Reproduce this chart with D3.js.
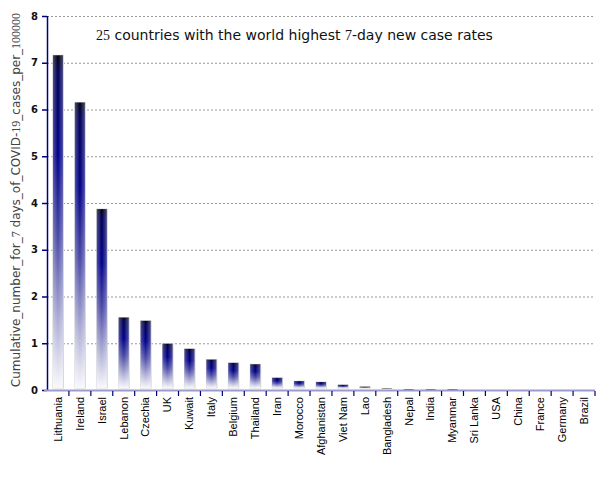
<!DOCTYPE html>
<html><head><meta charset="utf-8">
<script src="https://cdn.jsdelivr.net/npm/d3@7"></script>
<style>body{margin:0;background:#fff}</style>
</head><body><svg id="c" width="605" height="480"></svg>
<script>
const countries = ["Lithuania","Ireland","Israel","Lebanon","Czechia","UK","Kuwait","Italy","Belgium","Thailand","Iran","Morocco","Afghanistan","Viet Nam","Lao","Bangladesh","Nepal","India","Myanmar","Sri Lanka","USA","China","France","Germany","Brazil"];
const values = [7.16,6.15,3.87,1.55,1.48,0.99,0.88,0.65,0.58,0.55,0.26,0.19,0.17,0.11,0.07,0.03,0.015,0.015,0.015,0,0,0,0,0,0];
const yTicks = [0,1,2,3,4,5,6,7,8];

const svg = d3.select("#c");
const m = {l:47, r:595, t:16, b:390};
const x = d3.scaleBand().domain(countries).range([m.l, m.r]).paddingInner(0).paddingOuter(0);
const y = d3.scaleLinear().domain([0,8]).range([m.b, m.t]);

const defs = svg.append("defs");
const g = defs.append("linearGradient").attr("id","bg").attr("x1",0).attr("y1",0).attr("x2",0).attr("y2",1);
[[0,"#000014"],[0.05,"#000058"],[0.3,"#000088"],[0.55,"#4a4aa6"],[0.8,"#aeaed6"],[1,"#f8f8fc"]]
 .forEach(s=>g.append("stop").attr("offset",s[0]).attr("stop-color",s[1]));
const gh = defs.append("linearGradient").attr("id","bh").attr("x1",0).attr("y1",0).attr("x2",1).attr("y2",0);
[[0,"#ffffff",0.3],[0.5,"#ffffff",0],[1,"#ffffff",0.3]]
 .forEach(s=>gh.append("stop").attr("offset",s[0]).attr("stop-color",s[1]).attr("stop-opacity",s[2]));

// grid
svg.append("g").selectAll("line").data(yTicks.filter(d=>d>0)).join("line")
  .attr("x1",m.l).attr("x2",m.r).attr("y1",d=>y(d)+0.5).attr("y2",d=>y(d)+0.5)
  .attr("stroke","#999").attr("stroke-dasharray","2,2").attr("stroke-width",1);

// bars
const bw = 10;
const bars = svg.append("g");
const data = countries.map((c,i)=>({c, v:values[i]}));
bars.selectAll("rect.s").data(data.filter(d=>d.v>0)).join("rect")
  .attr("x",d=>x(d.c)+x.bandwidth()/2-bw/2-0.5).attr("width",bw+1.5)
  .attr("y",d=>y(d.v)-0.5).attr("height",d=>Math.max(0,y(0)-y(d.v)-1))
  .attr("fill","#d8d8d8");
bars.selectAll("rect.b").data(data.filter(d=>d.v>0)).join("rect")
  .attr("x",d=>x(d.c)+x.bandwidth()/2-bw/2).attr("width",bw)
  .attr("y",d=>y(d.v)).attr("height",d=>Math.max(0.8,y(0)-y(d.v)-2))
  .attr("fill","url(#bg)");
bars.selectAll("rect.h").data(data.filter(d=>d.v>0)).join("rect")
  .attr("x",d=>x(d.c)+x.bandwidth()/2-bw/2).attr("width",bw)
  .attr("y",d=>y(d.v)).attr("height",d=>Math.max(0.8,y(0)-y(d.v)-2))
  .attr("fill","url(#bh)");

// y axis
const ya = svg.append("g").attr("transform",`translate(${m.l},0)`)
  .call(d3.axisLeft(y).tickValues(yTicks).tickSize(5).tickFormat(d3.format("d")));
ya.select(".domain").attr("stroke","#000080").attr("stroke-width",1.5).attr("d",`M0.5,${m.t}V${m.b}`);
ya.selectAll(".tick line").attr("stroke","#000080").attr("stroke-width",1.5);
ya.selectAll(".tick text").attr("font-family","DejaVu Sans, sans-serif").attr("font-size",10).attr("font-weight","bold").attr("fill","#111").attr("x",-9);

// x axis
const xa = svg.append("g").attr("transform",`translate(0,${m.b})`)
  .call(d3.axisBottom(x).tickSize(0).tickPadding(6));
xa.select(".domain").remove();
svg.append("line").attr("x1",m.l-3).attr("x2",m.r).attr("y1",m.b+0.5).attr("y2",m.b+0.5)
  .attr("stroke","#9a9acc").attr("stroke-width",2);
const bounds = countries.slice(1).map(c=>x(c)).concat([m.r]);
svg.append("g").selectAll("line").data(bounds).join("line")
  .attr("x1",d=>d).attr("x2",d=>d).attr("y1",m.b+1).attr("y2",m.b+6)
  .attr("stroke","#000080").attr("stroke-width",1.2);
xa.selectAll(".tick text").attr("font-family","Liberation Sans, Arial, sans-serif").attr("font-size",11).attr("fill","#000")
  .attr("text-anchor","end").attr("transform","rotate(-90)").attr("x",-7).attr("y",0).attr("dy","0.35em");

// title
const t = svg.append("text").attr("x",96).attr("y",40).attr("font-size",14).attr("fill","#111")
  .attr("font-family","DejaVu Sans, sans-serif");
t.append("tspan").attr("font-family","Liberation Serif, serif").text("25");
t.append("tspan").text(" countries with the world highest ");
t.append("tspan").attr("font-family","Liberation Serif, serif").text("7");
t.append("tspan").text("-day new case rates");

// y label
const yl = svg.append("text").attr("transform","translate(20,200) rotate(-90)").attr("text-anchor","middle")
  .attr("font-size",12).attr("fill","#444").attr("font-family","DejaVu Sans, sans-serif");
yl.append("tspan").text("Cumulative_number_for_");
yl.append("tspan").attr("font-family","Liberation Serif, serif").text("7");
yl.append("tspan").text(" days_of_COVID-");
yl.append("tspan").attr("font-family","Liberation Serif, serif").text("19");
yl.append("tspan").text("_cases_per_");
yl.append("tspan").attr("font-family","Liberation Serif, serif").text("100000");
</script></body></html>
